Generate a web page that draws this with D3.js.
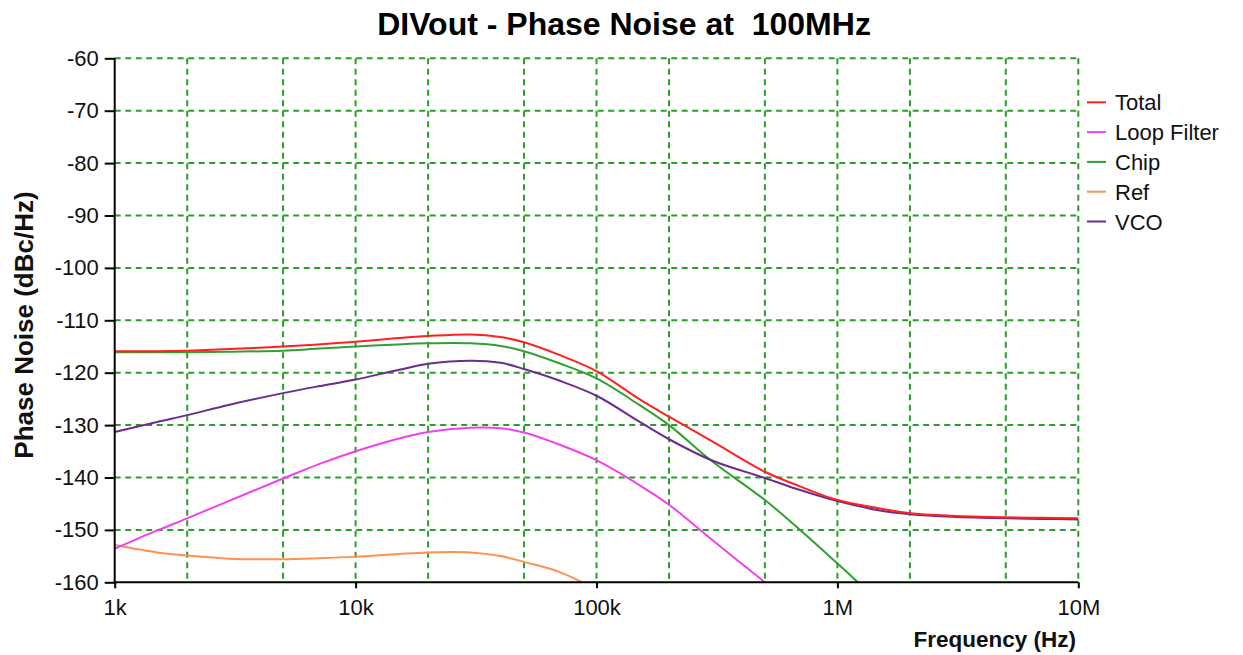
<!DOCTYPE html>
<html>
<head>
<meta charset="utf-8">
<script src="https://cdn.jsdelivr.net/npm/d3@7"></script>
<style>
  html, body { margin: 0; padding: 0; background: #fff; }
  svg { display: block; }
  text { font-family: "Liberation Sans", Arial, sans-serif; }
</style>
</head>
<body>
<svg id="chart" width="1243" height="655"></svg>
<script>
// ---- data ----
const freqs      = [1e3, 1.5e3, 2e3, 3e3, 5e3, 7e3, 1e4, 1.5e4, 2e4, 3e4, 4e4, 5e4, 7e4, 1e5, 1.5e5, 2e5, 3e5, 5e5, 7e5, 1e6, 1.5e6, 2e6, 3e6, 5e6, 7e6, 1e7];
const total      = [-115.9, -115.9, -115.8, -115.5, -115.0, -114.6, -114.1, -113.4, -113.0, -112.7, -113.2, -114.2, -116.6, -119.7, -125.0, -128.4, -133.0, -138.9, -141.7, -144.3, -145.9, -146.8, -147.3, -147.6, -147.7, -147.8];
const loopFilter = [-153.6, -150.1, -147.8, -144.4, -140.2, -137.5, -135.0, -132.6, -131.3, -130.5, -130.6, -131.4, -133.7, -136.7, -141.4, -145.2, -151.8, -160.0, -165.5, -171.0, -178.0, -183.0, -190.0, -199.0, -205.0, -211.0];
const chip       = [-116.1, -116.1, -116.1, -116.0, -115.8, -115.4, -115.0, -114.6, -114.4, -114.4, -114.9, -115.9, -118.2, -121.1, -126.1, -130.0, -136.8, -144.3, -150.0, -156.4, -164.0, -170.0, -178.0, -186.0, -192.0, -198.0];
const ref        = [-152.9, -154.3, -154.9, -155.5, -155.6, -155.4, -155.1, -154.6, -154.3, -154.3, -155.0, -156.1, -158.0, -161.5, -167.0, -171.0, -177.0, -185.0, -190.0, -195.0, -200.0, -205.0, -210.0, -215.0, -220.0, -225.0];
const vco        = [-131.3, -129.4, -128.1, -126.1, -123.9, -122.6, -121.3, -119.5, -118.3, -117.7, -118.1, -119.3, -121.5, -124.4, -129.3, -132.7, -136.7, -140.1, -142.4, -144.5, -146.3, -147.0, -147.5, -147.8, -147.9, -148.0];

const seriesNames  = ["Total", "Loop Filter", "Chip", "Ref", "VCO"];
const seriesColors = ["#ff2020", "#f040f0", "#30a030", "#ff9050", "#6a2c91"];
const seriesValues = [total, loopFilter, chip, ref, vco];

const xTickValues = [1e3, 1e4, 1e5, 1e6, 1e7];
const xTickLabels = ["1k", "10k", "100k", "1M", "10M"];
const xGridValues = [1e3, 2e3, 5e3, 1e4, 2e4, 5e4, 1e5, 2e5, 5e5, 1e6, 2e6, 5e6, 1e7];
const yTickValues = [-60, -70, -80, -90, -100, -110, -120, -130, -140, -150, -160];

const titleText = "DIVout - Phase Noise at\u00a0 100MHz";
const xTitle = "Frequency (Hz)";
const yTitle = "Phase Noise (dBc/Hz)";

// ---- layout ----
const svg = d3.select("#chart");
const pLeft = 114.7, pRight = 1078.3, pTop = 58.3, pBottom = 582.3;

const x = d3.scaleLog().domain([1e3, 1e7]).range([pLeft, pRight]);
const y = d3.scaleLinear().domain([-160, -60]).range([pBottom, pTop]);

svg.append("defs").append("clipPath").attr("id", "plotClip")
  .append("rect").attr("x", pLeft).attr("y", pTop - 2)
  .attr("width", pRight - pLeft + 2).attr("height", pBottom - pTop + 2);

// grid
const gridColor = "#28a028";
const grid = svg.append("g");
grid.selectAll("line.v").data(xGridValues.filter(d => d > 1e3)).enter().append("line")
  .attr("x1", d => x(d)).attr("x2", d => x(d)).attr("y1", pTop).attr("y2", pBottom)
  .attr("stroke", gridColor).attr("stroke-width", 2).attr("stroke-dasharray", "6,4.5");
grid.selectAll("line.h").data(yTickValues.filter(d => d > -160)).enter().append("line")
  .attr("x1", pLeft).attr("x2", pRight).attr("y1", d => y(d)).attr("y2", d => y(d))
  .attr("stroke", gridColor).attr("stroke-width", 2).attr("stroke-dasharray", "6,4.5");

// curves
const line = d3.line().x((d, i) => x(freqs[i])).y(d => y(d)).curve(d3.curveCatmullRom.alpha(0.5));
const curves = svg.append("g").attr("clip-path", "url(#plotClip)");
const drawOrder = [3, 1, 2, 4, 0];
drawOrder.forEach(k => {
  curves.append("path").datum(seriesValues[k])
    .attr("d", line).attr("fill", "none")
    .attr("stroke", seriesColors[k]).attr("stroke-width", 2);
});

// axes
const yAxis = d3.axisLeft(y).tickValues(yTickValues).tickSize(10).tickSizeOuter(0).tickPadding(6)
  .tickFormat(d => String(d));
const gy = svg.append("g").attr("transform", `translate(${pLeft},0)`).call(yAxis);
const xAxis = d3.axisBottom(x).tickValues(xTickValues).tickSize(6).tickSizeOuter(0).tickPadding(11)
  .tickFormat((d, i) => xTickLabels[i]);
const gx = svg.append("g").attr("transform", `translate(0,${pBottom})`).call(xAxis);
[gx, gy].forEach(g => {
  g.select(".domain").attr("stroke", "#000").attr("stroke-width", 2);
  g.selectAll(".tick line").attr("stroke", "#000").attr("stroke-width", 2);
  g.selectAll(".tick text").attr("fill", "#111").style("font-size", "22px")
    .style("font-family", "'Liberation Sans', Arial, sans-serif");
});
gx.select(".domain").attr("d", `M${pLeft},0H${pRight}`);
gy.select(".domain").attr("d", `M0,${pTop}V${pBottom}`);

// titles
svg.append("text").attr("x", 624).attr("y", 35).attr("text-anchor", "middle")
  .style("font-size", "32px").style("font-weight", "bold").attr("fill", "#000").text(titleText);
svg.append("text").attr("x", 1076).attr("y", 647).attr("text-anchor", "end")
  .style("font-size", "22.5px").style("font-weight", "bold").attr("fill", "#111").text(xTitle);
svg.append("text").attr("transform", "translate(33,325) rotate(-90)").attr("text-anchor", "middle")
  .style("font-size", "26px").style("font-weight", "bold").attr("fill", "#111").text(yTitle);

// legend
const legend = svg.append("g");
seriesNames.forEach((name, i) => {
  const ly = 102.3 + i * 29.8;
  legend.append("line").attr("x1", 1087).attr("x2", 1106).attr("y1", ly).attr("y2", ly)
    .attr("stroke", seriesColors[i]).attr("stroke-width", 2);
  legend.append("text").attr("x", 1115).attr("y", ly + 8)
    .style("font-size", "22px").attr("fill", "#111").text(name);
});
</script>
</body>
</html>
